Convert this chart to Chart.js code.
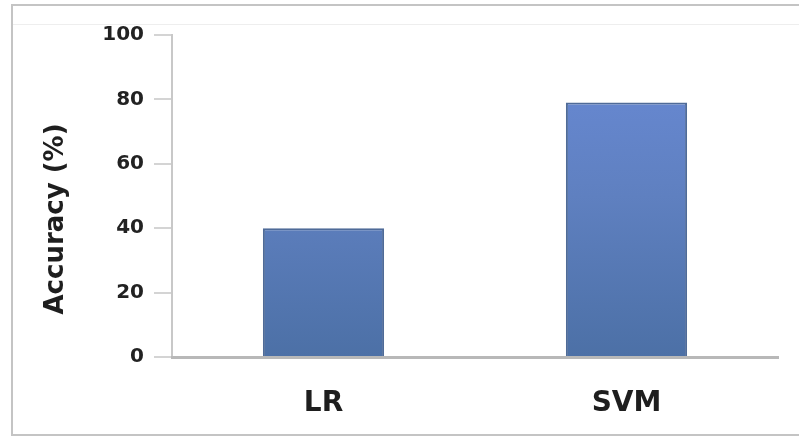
<!DOCTYPE html>
<html>
<head>
<meta charset="utf-8">
<script src="https://cdn.jsdelivr.net/npm/chart.js@4/dist/chart.umd.min.js"></script>
<style>
    html, body { margin: 0; padding: 0; background: #fff; }
    #wrap { width: 799px; height: 438px; position: relative; }
</style>
</head>
<body>
<div id="wrap"><canvas id="chartAccuracy"></canvas></div>
<script>
// Data
const categories = ['LR', 'SVM'];
const accuracy = [40, 79];
const yTicks = [0, 20, 40, 60, 80, 100];
const yTitle = 'Accuracy (%)';

// Frame around the whole picture
const framePlugin = {
    id: 'frame',
    beforeDraw(chart) {
        const ctx = chart.ctx;
        ctx.save();
        ctx.fillStyle = '#ffffff';
        ctx.fillRect(0, 0, chart.width, chart.height);
        ctx.strokeStyle = '#c4c4c4';
        ctx.lineWidth = 2;
        ctx.strokeRect(12, 5, chart.width + 10, 430);
        ctx.strokeStyle = '#eeeeee';
        ctx.lineWidth = 1;
        ctx.beginPath();
        ctx.moveTo(13, 24.5);
        ctx.lineTo(chart.width, 24.5);
        ctx.stroke();
        ctx.restore();
    }
};

// Y axis title, drawn a bit lower than the axis middle like the original
const yTitlePlugin = {
    id: 'yTitle',
    afterDraw(chart) {
        const ctx = chart.ctx;
        const area = chart.chartArea;
        ctx.save();
        ctx.translate(56, area.bottom - 138);
        ctx.rotate(-Math.PI / 2);
        ctx.fillStyle = '#1e1e1e';
        ctx.font = 'bold 26px "DejaVu Sans"';
        ctx.textAlign = 'center';
        ctx.textBaseline = 'middle';
        ctx.fillText(yTitle, 0, 0);
        ctx.restore();
    }
};

function barGradient(context) {
    const area = context.chart.chartArea;
    if (!area) return '#5b7dc0';
    const g = context.chart.ctx.createLinearGradient(0, area.top, 0, area.bottom);
    g.addColorStop(0, '#6a8bd8');
    g.addColorStop(0.5, '#5f80c0');
    g.addColorStop(1, '#4c70a6');
    return g;
}

const ctx = document.getElementById('chartAccuracy').getContext('2d');
new Chart(ctx, {
    type: 'bar',
    data: {
        labels: categories,
        datasets: [{
            label: yTitle,
            data: accuracy,
            backgroundColor: barGradient,
            borderColor: '#4f6b98',
            borderWidth: 2,
            barPercentage: 0.4,
            categoryPercentage: 1
        }]
    },
    options: {
        responsive: true,
        maintainAspectRatio: false,
        animation: false,
        layout: { padding: { left: 35, top: 35, right: 21, bottom: 0 } },
        plugins: {
            legend: { display: false },
            tooltip: { enabled: false }
        },
        scales: {
            y: {
                min: 0,
                max: 100,
                afterFit(scale) { scale.width = 137; },
                afterBuildTicks(scale) { scale.ticks = yTicks.map(v => ({ value: v })); },
                grid: { drawOnChartArea: false, color: '#d4d4d4', lineWidth: 2, tickLength: 18 },
                border: { color: '#c8c8c8', width: 2 },
                ticks: {
                    color: '#222',
                    padding: 10,
                    font: { family: 'DejaVu Sans', size: 20, weight: 'bold' }
                }
            },
            x: {
                afterFit(scale) { scale.height = 81; },
                grid: { drawOnChartArea: false, drawTicks: false },
                border: { color: '#b8b8b8', width: 3 },
                ticks: {
                    color: '#1e1e1e',
                    padding: 30,
                    font: { family: 'DejaVu Sans', size: 28, weight: 'bold' }
                }
            }
        }
    },
    plugins: [framePlugin, yTitlePlugin]
});
</script>
</body>
</html>
